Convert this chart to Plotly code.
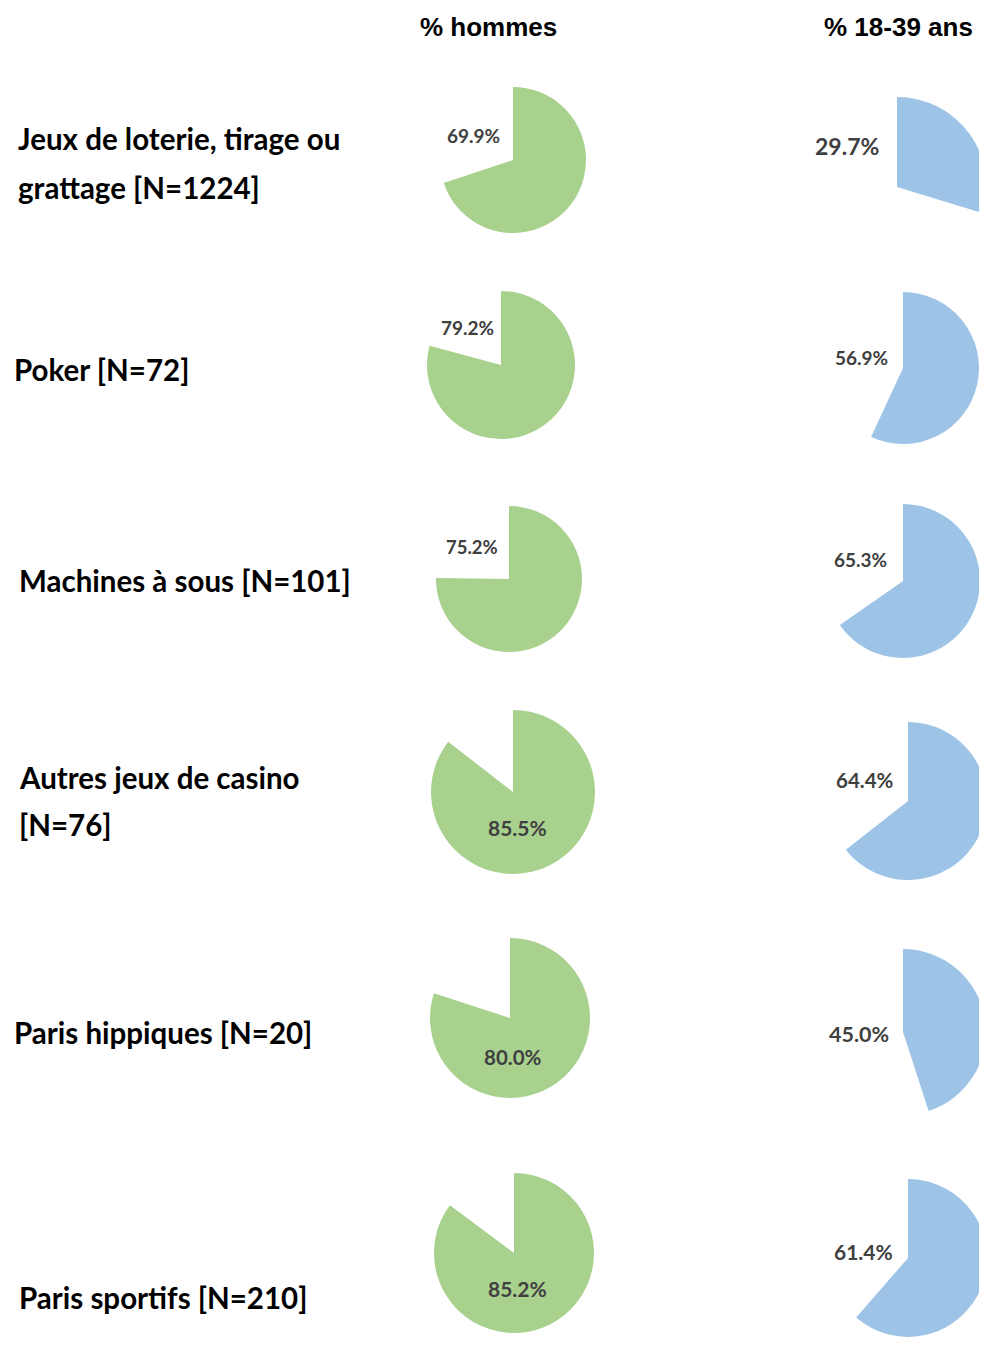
import plotly.graph_objects as go

# ---- data ----
categories = [
    "Jeux de loterie, tirage ou<br>grattage [N=1224]",
    "Poker [N=72]",
    "Machines à sous [N=101]",
    "Autres jeux de casino<br>[N=76]",
    "Paris hippiques [N=20]",
    "Paris sportifs [N=210]",
]
pct_hommes = [69.9, 79.2, 75.2, 85.5, 80.0, 85.2]
pct_18_39 = [29.7, 56.9, 65.3, 64.4, 45.0, 61.4]
column_titles = ["% hommes", "% 18-39 ans"]

# ---- layout (page pixels; the page body has an 8px margin) ----
OFF = 8
W, H = 987 - OFF, 1345 - 2 * OFF
GREEN = "#A9D18E"
BLUE = "#9DC3E6"
TXT = "#404040"

# pie centres / radii (page px)
green_geo = [(513, 160, 73), (501, 365, 74), (509, 579, 73), (513, 792, 82), (510, 1018, 80), (514, 1253, 80)]
blue_geo = [(897, 187, 90), (903, 368, 76), (903, 581, 77), (908, 801, 79), (903, 1032, 83), (908, 1258, 79)]
# label centres / sizes
green_lbl = [(473, 135, 19), (467, 327, 19), (472, 547, 18.5), (517, 827, 21), (513, 1057, 20.5), (517, 1288, 21)]
blue_lbl = [(847, 146, 23), (861, 357, 19), (860, 559, 19), (865, 780, 20.5), (859, 1034, 21.5), (863, 1251, 21)]
cat_pos = [(16, [139, 187]), (12, [370]), (17, [580]), (17, [777, 824]), (12, [1032]), (17, [1297])]


def px(x):
    return (x - OFF) / W


def py(y):
    return 1 - (y - OFF) / H


fig = go.Figure()


def add_pie(v, geo, color):
    cx, cy, r = geo
    x0, x1 = max(0, px(cx - r)), min(1, px(cx + r))
    y0, y1 = max(0, py(cy + r)), min(1, py(cy - r))
    fig.add_trace(go.Pie(
        values=[v, 100 - v],
        marker=dict(colors=[color, "rgba(0,0,0,0)"], line=dict(width=0)),
        sort=False, direction="clockwise", rotation=0,
        textinfo="none", hoverinfo="skip", showlegend=False,
        domain=dict(x=[x0, x1], y=[y0, y1]),
    ))


for v, g in zip(pct_hommes, green_geo):
    add_pie(v, g, GREEN)
for v, g in zip(pct_18_39, blue_geo):
    add_pie(v, g, BLUE)

ann = []
for v, (x, y, s) in zip(pct_hommes, green_lbl):
    ann.append(dict(x=px(x), y=py(y), text=f"<b>{v:.1f}%</b>", font=dict(family="Lato", size=s, color=TXT)))
for v, (x, y, s) in zip(pct_18_39, blue_lbl):
    ann.append(dict(x=px(x), y=py(y), text=f"<b>{v:.1f}%</b>", font=dict(family="Lato", size=s, color=TXT)))

for cat, (x, ys) in zip(categories, cat_pos):
    for line, y in zip(cat.split("<br>"), ys):
        ann.append(dict(x=px(x), y=py(y), xanchor="left", text=f"<b>{line}</b>",
                        font=dict(family="Lato", size=29.5, color="#000000")))

for t, x in zip(column_titles, [488, 898]):
    ann.append(dict(x=px(x), y=py(27), text=f"<b>{t}</b>",
                    font=dict(family="Liberation Sans", size=26, color="#000000")))

for a in ann:
    a.update(xref="paper", yref="paper", showarrow=False, yanchor="middle")
    a.setdefault("xanchor", "center")

fig.update_layout(
    width=W, height=H,
    margin=dict(l=0, r=0, t=0, b=0),
    paper_bgcolor="white", plot_bgcolor="white",
    annotations=ann,
)

fig.write_html("out.html")
